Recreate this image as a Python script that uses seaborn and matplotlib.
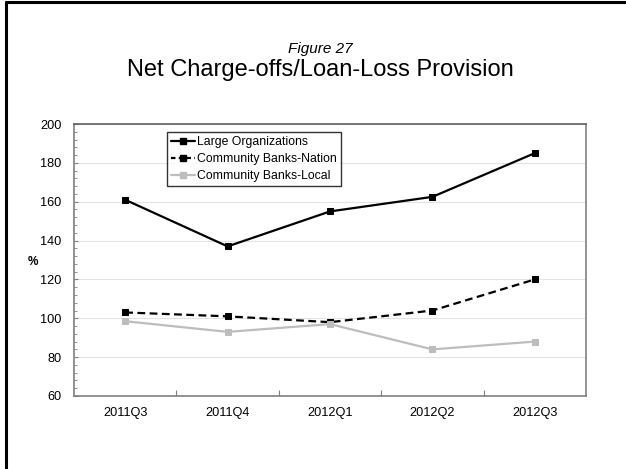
import matplotlib
matplotlib.use("Agg")
import matplotlib.pyplot as plt
from matplotlib.lines import Line2D
from matplotlib.ticker import FixedLocator, MultipleLocator
import numpy as np
import pandas as pd
import seaborn as sns

quarters = ["2011Q3", "2011Q4", "2012Q1", "2012Q2", "2012Q3"]
large_orgs = [161, 137, 155, 162.5, 185]
cb_nation = [103, 101, 98, 104, 120]
cb_local = [98.5, 93, 97, 84, 88]
series_names = ["Large Organizations", "Community Banks-Nation", "Community Banks-Local"]
y_ticks = [60, 80, 100, 120, 140, 160, 180, 200]

sns.set_theme(style="white")
plt.rcParams["font.family"] = ["Liberation Sans", "DejaVu Sans"]
plt.rcParams["text.color"] = "black"
plt.rcParams["xtick.labelcolor"] = "black"
plt.rcParams["ytick.labelcolor"] = "black"

df = pd.DataFrame({
    "pos": list(range(len(quarters))) * 3,
    "value": large_orgs + cb_nation + cb_local,
    "series": [series_names[0]] * 5 + [series_names[1]] * 5 + [series_names[2]] * 5,
})

fig = plt.figure(figsize=(6.26, 4.69), dpi=100)
ax = fig.add_axes([74 / 626, 1 - 396 / 469, 512 / 626, 272 / 469])

styles = {
    series_names[0]: dict(color="black", linestyle="-"),
    series_names[1]: dict(color="black", linestyle=(0, (3.5, 2))),
    series_names[2]: dict(color="#bdbdbd", linestyle="-"),
}
for name in series_names:
    sub = df[df["series"] == name]
    st = styles[name]
    sns.lineplot(data=sub, x="pos", y="value", ax=ax, color=st["color"],
                 linestyle=st["linestyle"], linewidth=1.6, marker="s",
                 markersize=4.2, markeredgecolor=st["color"],
                 markerfacecolor=st["color"], label=name, legend=False)

ax.set_xlim(-0.5, len(quarters) - 0.5)
ax.set_ylim(60, 200)

# category boundaries carry the tick marks, centers carry the labels
ax.xaxis.set_major_locator(FixedLocator(np.arange(0.5, len(quarters) - 0.5, 1.0)))
ax.xaxis.set_minor_locator(FixedLocator(np.arange(len(quarters))))
ax.set_xticklabels([], minor=False)
ax.set_xticklabels(quarters, minor=True)
ax.tick_params(axis="x", which="major", direction="in", length=4, width=0.8,
               color="#808080", bottom=True)
ax.tick_params(axis="x", which="minor", length=0, pad=8, labelsize=9.2,
               labelcolor="black")

ax.set_yticks(y_ticks)
ax.yaxis.set_minor_locator(MultipleLocator(4))
ax.tick_params(axis="y", which="major", direction="in", length=3, width=0.8,
               color="#808080", pad=9, labelsize=9.2, labelcolor="black", left=True)
ax.tick_params(axis="y", which="minor", direction="in", length=2, width=0.6,
               color="#808080", left=True)

ax.grid(axis="y", which="major", color="#e3e3e3", linewidth=0.8)
ax.set_axisbelow(True)
for side in ["left", "right", "bottom"]:
    ax.spines[side].set_color("#808080")
    ax.spines[side].set_linewidth(1.2)
ax.spines["top"].set_color("#606060")
ax.spines["top"].set_linewidth(1.2)

ax.set_xlabel("")
ax.set_ylabel("")
fig.text(33 / 626, 1 - 262 / 469, "%", ha="center", va="center",
         fontsize=8.5, fontweight="bold")

handles = [
    Line2D([], [], color="black", linestyle="-", linewidth=1.6, marker="s", markersize=4),
    Line2D([], [], color="black", linestyle=(0, (2, 1.5)), linewidth=1.6, marker="s", markersize=4),
    Line2D([], [], color="#bdbdbd", linestyle="-", linewidth=1.6, marker="s", markersize=4),
]
leg = ax.legend(handles, series_names, loc="upper left",
                bbox_to_anchor=((167 - 74) / 512, (396 - 132) / 272),
                frameon=True, fancybox=False, fontsize=8.8, handlelength=1.9,
                handletextpad=0.2, borderpad=0.35, labelspacing=0.4,
                borderaxespad=0)
leg.get_frame().set_edgecolor("black")
leg.get_frame().set_linewidth(1.0)

fig.text(0.5 + 7 / 626, 1 - 49 / 469, "Figure 27", ha="center", va="center",
         fontsize=11, style="italic")
fig.text(0.5 + 7 / 626, 1 - 70 / 469, "Net Charge-offs/Loan-Loss Provision",
         ha="center", va="center", fontsize=17)

# page frame along the top and left edges
fig.add_artist(Line2D([5.5 / 626, 1.0], [1 - 2.5 / 469, 1 - 2.5 / 469],
                      transform=fig.transFigure, color="black", linewidth=2.2))
fig.add_artist(Line2D([5.5 / 626, 5.5 / 626], [0.0, 1 - 2.5 / 469],
                      transform=fig.transFigure, color="black", linewidth=2.2))

fig.savefig("out.png", dpi=100)
